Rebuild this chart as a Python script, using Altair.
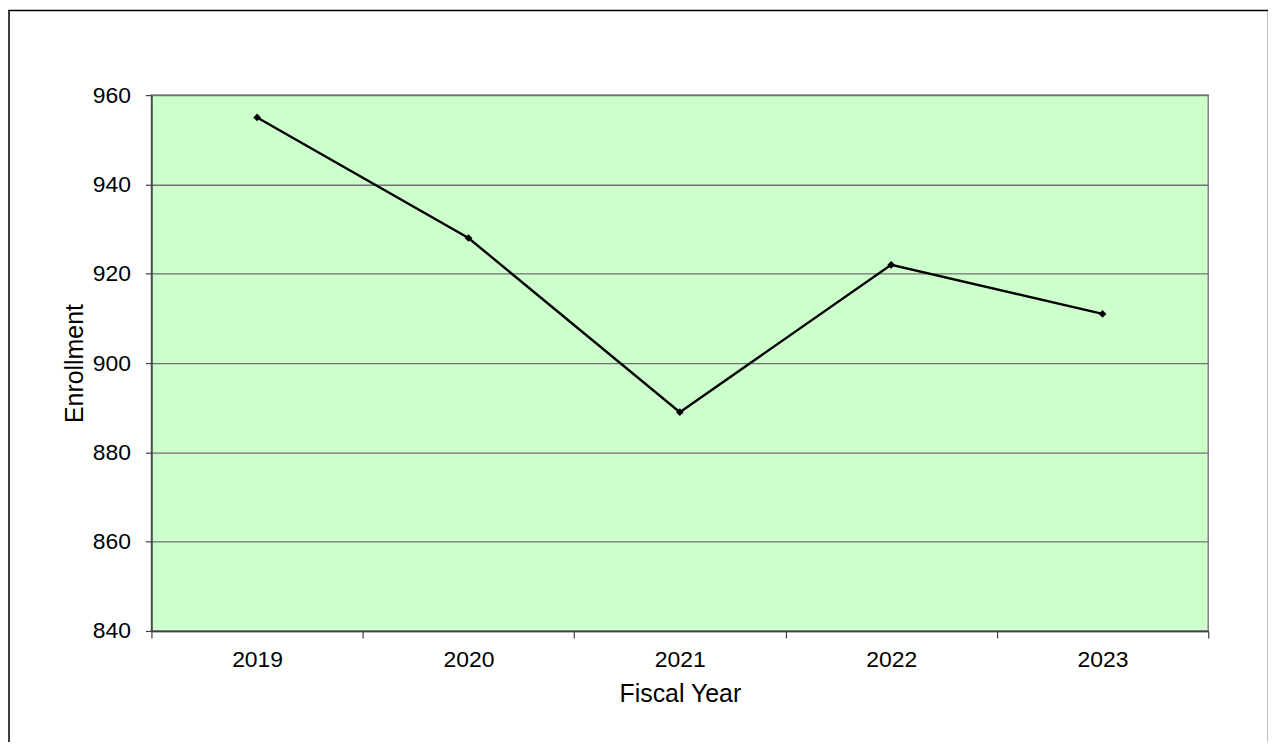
import altair as alt
import pandas as pd

years = ["2019", "2020", "2021", "2022", "2023"]
enrollment = [955, 928, 889, 922, 911]
y_ticks = [840, 860, 880, 900, 920, 940, 960]

df = pd.DataFrame({"Fiscal Year": years, "Enrollment": enrollment})

FONT = "Liberation Sans"
W, H = 1061, 538

x_enc = alt.X(
    "Fiscal Year:N",
    sort=years,
    scale=alt.Scale(paddingInner=0, paddingOuter=0),
    axis=alt.Axis(
        title="Fiscal Year",
        labelAngle=0,
        labelFont=FONT,
        labelFontSize=23,
        labelColor="#000000",
        labelBaseline="alphabetic",
        labelPadding=29,
        tickSize=7,
        tickColor="#404040",
        tickWidth=1.2,
        tickBand="extent",
        domainColor="#404040",
        domainWidth=1.6,
        titleFont=FONT,
        titleFontSize=25,
        titleFontWeight="normal",
        titleColor="#000000",
        titleBaseline="alphabetic",
        titleAnchor="middle",
        titleY=71,
        grid=False,
    ),
)

y_enc = alt.Y(
    "Enrollment:Q",
    scale=alt.Scale(domain=[840, 960], nice=False, zero=False),
    axis=alt.Axis(
        values=y_ticks,
        title="Enrollment",
        labelFont=FONT,
        labelFontSize=23,
        labelColor="#000000",
        labelPadding=15,
        tickSize=6,
        tickColor="#404040",
        tickWidth=1.2,
        domainColor="#404040",
        domainWidth=1.6,
        gridColor="#707070",
        gridWidth=1.3,
        titleFont=FONT,
        titleFontSize=25,
        titleFontWeight="normal",
        titleColor="#000000",
        titleAngle=270,
        titleAlign="center",
        titleBaseline="alphabetic",
        titleX=-69,
        titleY=H / 2,
    ),
)

line = alt.Chart(df).mark_line(color="#000000", strokeWidth=2.4).encode(x=x_enc, y=y_enc)
pts = alt.Chart(df).mark_point(shape="diamond", filled=True, color="#000000", size=60, opacity=1).encode(
    x="Fiscal Year:N", y="Enrollment:Q"
)

border = alt.Chart(alt.Data(values=[{"a": 1}])).mark_rect(
    fill="transparent", stroke="#000000", strokeWidth=1.5
).encode(
    x=alt.value(-143.0),
    x2=alt.value(1121.5),
    y=alt.value(-85.0),
    y2=alt.value(700.0),
)

chart = (
    alt.layer(line, pts, border)
    .properties(
        width=W,
        height=H,
        padding={"left": 144, "top": 86, "right": 60, "bottom": 110},
        autosize=alt.AutoSizeParams(type="none"),
        background="#ffffff",
    )
    .configure_view(fill="#CCFFCC", stroke="#808080", strokeWidth=1.5)
)

chart.save("out.html", embed_options={"renderer": "svg", "actions": False})
